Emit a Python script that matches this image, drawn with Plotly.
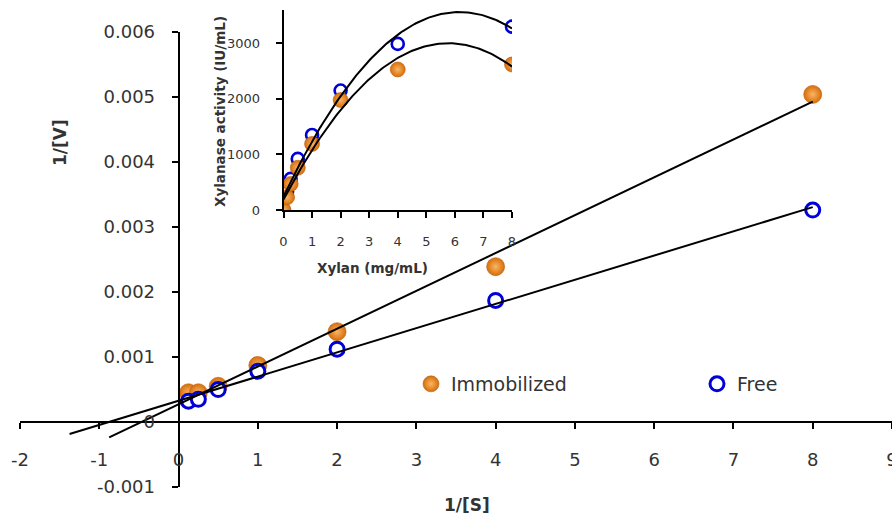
import numpy as np
import plotly.graph_objects as go

# ---------------- data ----------------
inv_s = [0.125, 0.25, 0.5, 1, 2, 4, 8]
inv_v_immobilized = [0.00045, 0.00045, 0.00055, 0.00087, 0.00139, 0.00239, 0.00504]
inv_v_free = [0.00032, 0.00035, 0.00050, 0.00078, 0.00112, 0.00187, 0.00326]

xylan_immobilized = [0, 0.125, 0.25, 0.5, 1, 2, 4, 8]
activity_immobilized = [0, 230, 470, 760, 1190, 1980, 2530, 2620]
xylan_free = [0, 0.125, 0.25, 0.5, 1, 2, 4, 8]
activity_free = [0, 330, 560, 920, 1350, 2150, 2990, 3300]

main_xticks = list(range(-2, 10))
main_xticklabels = ["-2", "-1", "0", "1", "2", "3", "4", "5", "6", "7", "8", "9"]
main_yticks = [-0.001, 0, 0.001, 0.002, 0.003, 0.004, 0.005, 0.006]
main_yticklabels = ["-0.001", "0", "0.001", "0.002", "0.003", "0.004", "0.005", "0.006"]
inset_xticks = list(range(0, 9))
inset_yticks = [0, 1000, 2000, 3000]

backward_immobilized = 1.0
backward_free = 1.5

# ---------------- styles ----------------
FONT = "'DejaVu Sans', Lato, sans-serif"
TXT = "#333333"
ORANGE_EDGE = "#D46E0C"     # outer colour of the sphere
ORANGE_CENTER = "#FDB562"   # highlight (radial gradient centre)
BLUE = "#0000D8"

fig = go.Figure()

# main chart markers
fig.add_trace(go.Scatter(
    x=inv_s, y=inv_v_immobilized, mode="markers", name="Immobilized", legendwidth=241,
    marker=dict(size=18, color=ORANGE_EDGE, gradient=dict(type="radial", color=ORANGE_CENTER),
                line=dict(width=0.6, color="#C0600A")),
    xaxis="x", yaxis="y"))
fig.add_trace(go.Scatter(
    x=inv_s, y=inv_v_free, mode="markers", name="Free",
    marker=dict(size=14, color="white", line=dict(width=3, color=BLUE)),
    xaxis="x", yaxis="y"))

# linear trendlines (least squares) with backward forecast
for yvals, back in [(inv_v_immobilized, backward_immobilized), (inv_v_free, backward_free)]:
    m, b = np.polyfit(inv_s, yvals, 1)
    xs = np.array([min(inv_s) - back, max(inv_s)])
    fig.add_trace(go.Scatter(x=xs, y=m * xs + b, mode="lines", showlegend=False,
                             line=dict(color="black", width=2), hoverinfo="skip",
                             xaxis="x", yaxis="y"))

# inset markers (free first, immobilized on top)
fig.add_trace(go.Scatter(
    x=xylan_free, y=activity_free, mode="markers", showlegend=False,
    marker=dict(size=12, color="white", line=dict(width=2.6, color=BLUE)),
    xaxis="x2", yaxis="y2"))
fig.add_trace(go.Scatter(
    x=xylan_immobilized, y=activity_immobilized, mode="markers", showlegend=False,
    marker=dict(size=15, color=ORANGE_EDGE, gradient=dict(type="radial", color=ORANGE_CENTER),
                line=dict(width=0.6, color="#C0600A")),
    xaxis="x2", yaxis="y2"))

# polynomial (order 2) trendlines for the inset
for xv, yv in [(xylan_free, activity_free), (xylan_immobilized, activity_immobilized)]:
    coef = np.polyfit(xv, yv, 2)
    xs = np.linspace(min(xv), max(xv), 120)
    fig.add_trace(go.Scatter(x=xs, y=np.polyval(coef, xs), mode="lines", showlegend=False,
                             line=dict(color="black", width=2), hoverinfo="skip",
                             xaxis="x2", yaxis="y2"))

# ---------------- layout ----------------
W, H = 892, 518
ML, MR, MT, MB = 20, 0, 10, 31
PW, PH = W - ML - MR, H - MT - MB
main_top = (487 - 32) / PH
xr = [-2, 9]
yr = [-0.001, 0.006]

def px2paper_x(px):
    return (px - ML) / PW

def px2paper_y(py):
    return (H - MB - py) / PH

axis_common = dict(showgrid=False, zeroline=False, showline=True, linecolor="black",
                   linewidth=1.8, ticks="outside", tickcolor="black", tickwidth=1.8,
                   ticklen=6, automargin=False, ticklabeloverflow="allow")

def title_ann(text, px, py, size, angle=0):
    return dict(text=text, x=px2paper_x(px), y=px2paper_y(py), xref="paper", yref="paper",
                xanchor="center", yanchor="middle", showarrow=False, textangle=angle,
                font=dict(size=size, color=TXT))

fig.update_layout(
    width=W, height=H,
    margin=dict(l=ML, r=MR, t=MT, b=MB, autoexpand=False),
    paper_bgcolor="white", plot_bgcolor="rgba(0,0,0,0)",
    font=dict(family=FONT, color=TXT, size=18),
    xaxis=dict(range=xr, domain=[0, 1], anchor="free",
               position=main_top * (0 - yr[0]) / (yr[1] - yr[0]),
               tickmode="array", tickvals=main_xticks, ticktext=main_xticklabels,
               tickfont=dict(size=18, color=TXT), ticklabelstandoff=15, **axis_common),
    yaxis=dict(range=yr, domain=[0, main_top], anchor="free",
               position=(0 - xr[0]) / (xr[1] - xr[0]),
               tickmode="array", tickvals=main_yticks, ticktext=main_yticklabels,
               tickfont=dict(size=18, color=TXT), ticklabelstandoff=13, **axis_common),
    xaxis2=dict(range=[0, 8], domain=[px2paper_x(283.5), px2paper_x(512)], anchor="y2",
                tickmode="array", tickvals=inset_xticks,
                tickfont=dict(size=13, color=TXT), ticklabelstandoff=12, **axis_common),
    yaxis2=dict(range=[0, 3600], domain=[px2paper_y(210), 1.0], anchor="x2",
                tickmode="array", tickvals=inset_yticks,
                tickfont=dict(size=13, color=TXT), ticklabelstandoff=13, **axis_common),
    showlegend=True,
    legend=dict(orientation="h", x=px2paper_x(411), y=px2paper_y(384),
                xanchor="left", yanchor="middle", bgcolor="rgba(0,0,0,0)",
                font=dict(size=19, color=TXT), itemclick=False),
    annotations=[
        title_ann("<b>1/[V]</b>", 60, 143, 17, -90),
        title_ann("<b>1/[S]</b>", 467, 505, 17),
        title_ann("<b>Xylanase activity (IU/mL)</b>", 220, 112, 13.5, -90),
        title_ann("<b>Xylan (mg/mL)</b>", 372, 268, 13.5),
    ],
)

fig.write_html("out.html")
